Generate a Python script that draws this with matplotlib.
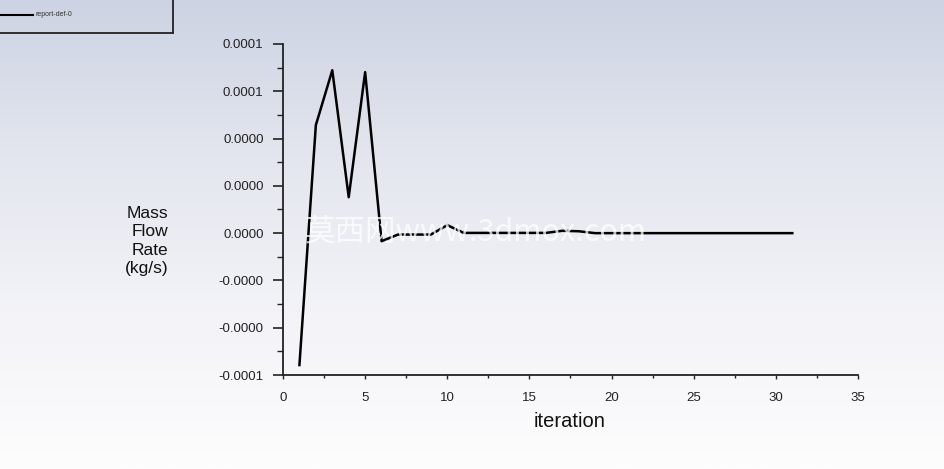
import numpy as np
import matplotlib
matplotlib.use("Agg")
import matplotlib.pyplot as plt
from matplotlib.colors import LinearSegmentedColormap
from matplotlib.lines import Line2D

iterations = list(range(1, 32))
mass_flow = [-5.58e-5, 4.57e-5, 6.89e-5, 1.52e-5, 6.81e-5, -0.34e-5,
             -0.06e-5, -0.06e-5, -0.06e-5, 0.34e-5, 0.01e-5,
             0.01e-5, 0.01e-5, 0.01e-5, 0.01e-5, 0.01e-5, 0.10e-5,
             0.08e-5, 0.0, 0.0, 0.0, 0.0, 0.0, 0.0, 0.0, 0.0,
             0.0, 0.0, 0.0, 0.0, 0.0]
y_ticks = [-6e-5, -4e-5, -2e-5, 0.0, 2e-5, 4e-5, 6e-5, 8e-5]
y_tick_labels = ["-0.0001", "-0.0000", "-0.0000", "0.0000", "0.0000",
                 "0.0000", "0.0001", "0.0001"]
x_ticks = [0, 5, 10, 15, 20, 25, 30, 35]
series_name = "report-def-0"

plt.rcParams['font.family'] = ['Liberation Sans', 'DejaVu Sans']

fig = plt.figure(figsize=(9.44, 4.69), dpi=100)

# gradient background
bg = fig.add_axes([0, 0, 1, 1], zorder=-10)
cmap = LinearSegmentedColormap.from_list("bg", ["#cdd3e3", "#e3e6ee", "#f3f3f8", "#fdfdfd"])
grad = np.linspace(0, 1, 256).reshape(-1, 1)
bg.imshow(grad, aspect='auto', cmap=cmap, extent=[0, 1, 0, 1], origin='upper')
bg.set_axis_off()

ax = fig.add_axes([283/944, 1-375/469, (858-283)/944, (375-44)/469])
ax.patch.set_alpha(0)
ax.plot(iterations, mass_flow, color='black', lw=1.8)
ax.set_xlim(0, 35)
ax.set_ylim(-6e-5, 8e-5)
ax.set_xticks(x_ticks)
ax.set_xticks(np.arange(2.5, 35, 5), minor=True)
ax.set_yticks(y_ticks)
ax.set_yticklabels(y_tick_labels)
ax.set_yticks(np.arange(-5e-5, 8e-5, 2e-5), minor=True)
for s in ['top', 'right']:
    ax.spines[s].set_visible(False)
for s in ['left', 'bottom']:
    ax.spines[s].set_color('#222222')
    ax.spines[s].set_linewidth(1.3)
ax.tick_params(axis='y', which='major', length=7, width=1.2, colors='#222222', labelsize=9.5, pad=7, labelcolor='#222222')
ax.tick_params(axis='y', which='minor', length=4, width=1.0, colors='#222222')
ax.tick_params(axis='x', which='major', length=3, width=1.0, colors='#222222', labelsize=9.5, pad=9, labelcolor='#222222')
ax.tick_params(axis='x', which='minor', length=2, width=1.0, colors='#222222')

fig.text(570/944, 1-421/469, "iteration", ha='center', va='center', fontsize=14.5, color='#111111')
fig.text(168/944, 1-241/469, "Mass\nFlow\nRate\n(kg/s)", ha='right', va='center',
         fontsize=12.5, color='#111111', linespacing=1.3, multialignment='right')

# legend box
fig.add_artist(Line2D([173/944, 173/944], [1, 1-33/469], color='#222222', lw=1.3))
fig.add_artist(Line2D([0, 173/944], [1-33/469, 1-33/469], color='#222222', lw=1.3))
fig.add_artist(Line2D([0, 33/944], [1-15/469, 1-15/469], color='black', lw=1.5))
fig.text(35/944, 1-15/469, series_name, ha='left', va='center', fontsize=5, color='#333333')

# watermark
fig.text(305/944, 1-232/469, "莫西网www.3dmox.com", ha='left', va='center', fontsize=22,
         color='white', alpha=0.75, family=['Noto Sans CJK SC', 'DejaVu Sans'])

fig.savefig("out.png", dpi=100)
